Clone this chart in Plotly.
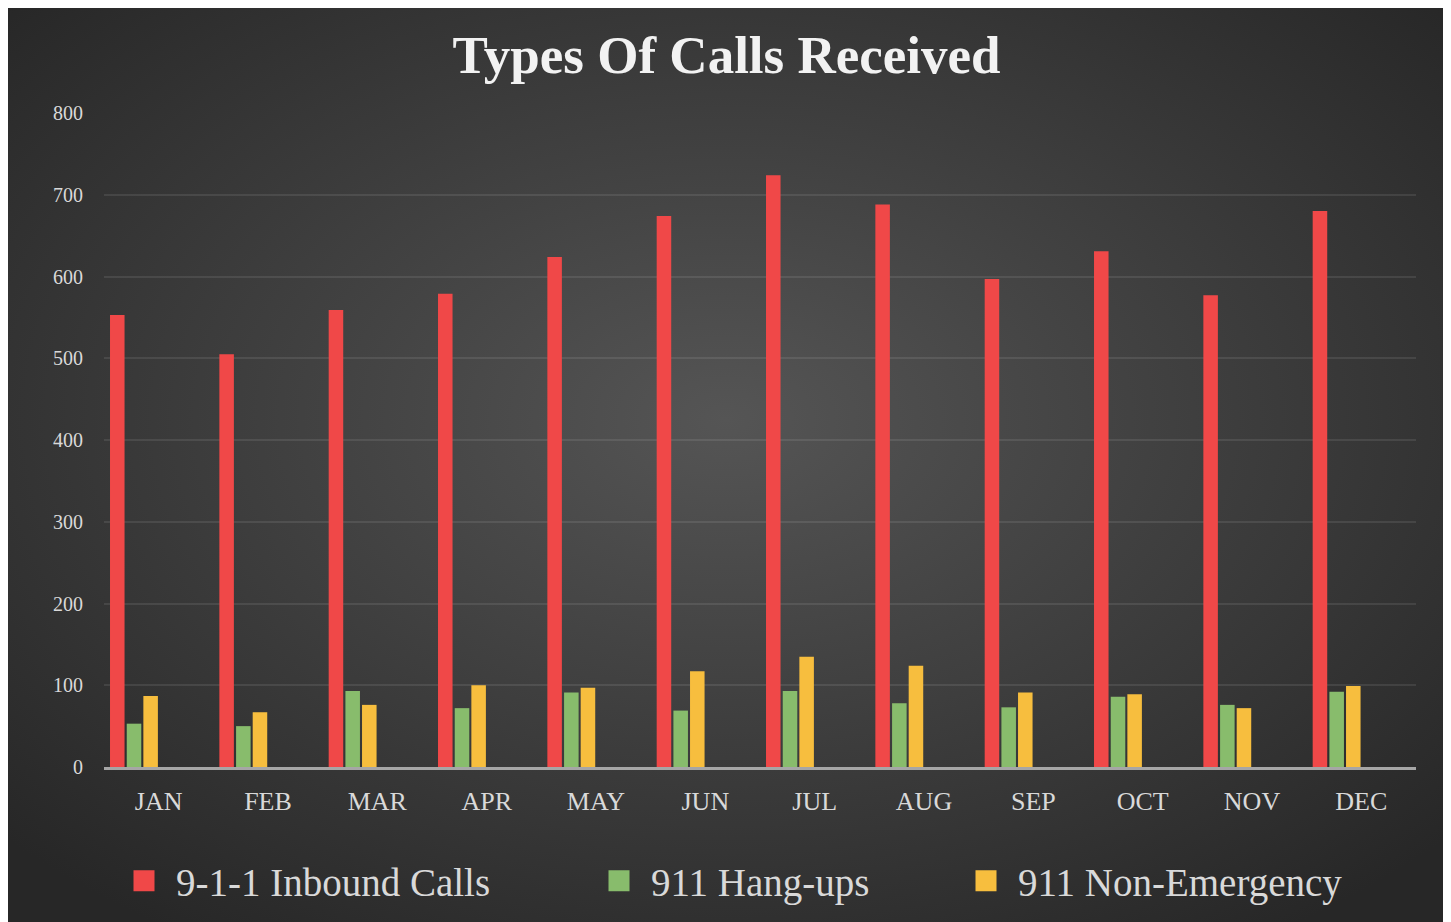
import urllib.parse
import plotly.graph_objects as go

months = ["JAN", "FEB", "MAR", "APR", "MAY", "JUN", "JUL", "AUG", "SEP", "OCT", "NOV", "DEC"]
inbound = [553, 505, 559, 579, 624, 674, 724, 688, 597, 631, 577, 680]
hangups = [53, 50, 93, 72, 91, 69, 93, 78, 73, 86, 76, 92]
nonemerg = [87, 67, 76, 100, 97, 117, 135, 124, 91, 89, 72, 99]
series_names = ["9-1-1 Inbound Calls", "911 Hang-ups", "911 Non-Emergency"]
y_ticks = [0, 100, 200, 300, 400, 500, 600, 700, 800]

colors = ["#F04848", "#88BC6C", "#F7BE3E"]
offsets = [-0.445, -0.292, -0.14]
legend_widths = [406, 298, None]

# page body has an 8px margin, so the figure is sized to the visible area
W, H = 1437, 914
L, R, T, B = 96, 29, 105, 155
PW, PH = W - L - R, H - T - B

FONT = "Liberation Serif, Times New Roman, serif"

fig = go.Figure()
for name, vals, col, off in zip(series_names, [inbound, hangups, nonemerg], colors, offsets):
    fig.add_trace(go.Bar(
        x=months, y=vals, name=name, marker=dict(color=col, line=dict(width=0)),
        width=0.133, offset=off, showlegend=False, legendgroup=name,
        hovertemplate="%{x}: %{y}<extra>" + name + "</extra>",
    ))

# legend-only entries (larger square swatches)
for name, col, lw in zip(series_names, colors, legend_widths):
    kw = dict(legendwidth=lw) if lw else {}
    fig.add_trace(go.Scatter(
        x=[None], y=[None], name=name, legendgroup=name, showlegend=True,
        mode="markers", hoverinfo="skip",
        marker=dict(symbol="square", size=16, color=col, line=dict(color=col, width=5)),
        **kw,
    ))

# radial gradient background via inline SVG
svg = (
    '<svg xmlns="http://www.w3.org/2000/svg" width="1437" height="914" '
    'viewBox="0 0 1437 914" preserveAspectRatio="none">'
    '<defs><radialGradient id="g" cx="50%" cy="45%" r="68%">'
    '<stop offset="0" stop-color="#555555"/>'
    '<stop offset="1" stop-color="#272727"/>'
    '</radialGradient></defs>'
    '<rect width="1437" height="914" fill="url(#g)"/></svg>'
)
src = "data:image/svg+xml;charset=utf-8," + urllib.parse.quote(svg)
fig.add_layout_image(dict(
    source=src, xref="paper", yref="paper",
    x=-L / PW, y=(H - B) / PH, sizex=W / PW, sizey=H / PH,
    xanchor="left", yanchor="top", sizing="stretch", layer="below",
))

fig.update_layout(
    width=W, height=H,
    margin=dict(l=L, r=R, t=T, b=B, autoexpand=False),
    paper_bgcolor="#2E2E2E", plot_bgcolor="rgba(0,0,0,0)",
    barmode="overlay",
    title=dict(
        text="Types Of Calls Received", xref="container", x=0.5, xanchor="center",
        yref="container", y=1 - 46 / H, yanchor="middle",
        font=dict(family=FONT, size=53, color="#F2F2F2", weight="bold"),
    ),
    xaxis=dict(
        showgrid=False, showline=True, linecolor="#A6A6A6", linewidth=3,
        ticks="outside", ticklen=9, tickcolor="rgba(0,0,0,0)",
        tickfont=dict(family=FONT, size=26, color="#D9D9D9"),
    ),
    yaxis=dict(
        range=[0, 800], tickvals=y_ticks, showline=False, zeroline=False,
        gridcolor="rgba(255,255,255,0.09)", gridwidth=2,
        ticks="outside", ticklen=16, tickcolor="rgba(0,0,0,0)",
        tickfont=dict(family=FONT, size=20, color="#D9D9D9"),
    ),
    legend=dict(
        orientation="h", xref="paper", yref="paper",
        x=8 / PW, xanchor="left", y=-(873 - (H - B)) / PH, yanchor="middle",
        itemwidth=54, bgcolor="rgba(0,0,0,0)",
        font=dict(family=FONT, size=39, color="#D9D9D9"),
    ),
    hovermode="closest",
)

fig.write_html("out.html")
